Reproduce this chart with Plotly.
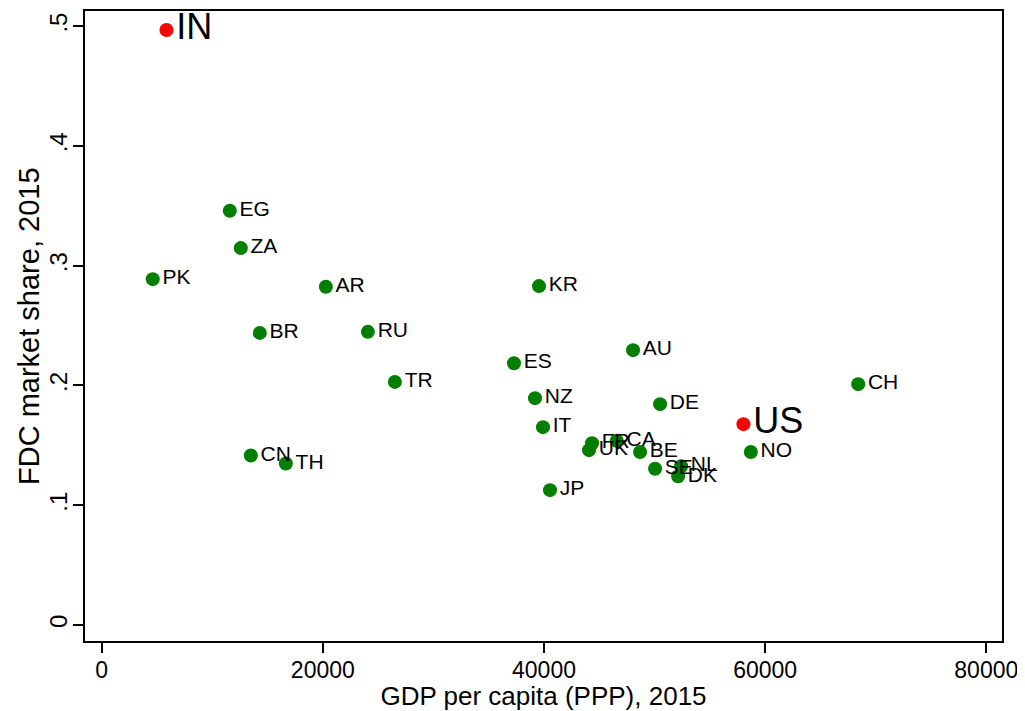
import plotly.graph_objects as go

# Data
countries = ["EG", "ZA", "PK", "AR", "BR", "RU", "TR", "CN", "TH", "KR", "ES", "NZ",
             "IT", "JP", "AU", "DE", "CH", "NO", "UK", "FR", "CA", "BE", "SE", "NL", "DK"]
gdp_pc = [11584, 12579, 4615, 20271, 14299, 24072, 26516, 13484, 16652, 39548, 37285, 39186,
          39910, 40543, 48054, 50498, 68416, 58706, 44072, 44344, 46579, 48688, 50045, 52398, 52127]
fdc_share = [0.3459, 0.3147, 0.2888, 0.2824, 0.2439, 0.2448, 0.2030, 0.1415, 0.1348, 0.2830, 0.2186, 0.1894,
             0.1652, 0.1126, 0.2295, 0.1844, 0.2011, 0.1445, 0.1460, 0.1518, 0.1539, 0.1445, 0.1305, 0.1326, 0.1242]

hl_countries = ["IN", "US"]
hl_gdp_pc = [5855, 58036]
hl_fdc_share = [0.4968, 0.1677]

x_ticks = [0, 20000, 40000, 60000, 80000]
y_ticks = [0, 0.1, 0.2, 0.3, 0.4, 0.5]
y_tick_labels = ["0", ".1", ".2", ".3", ".4", ".5"]

FONT = "Liberation Sans, Arial, Helvetica, sans-serif"

fig = go.Figure()
fig.add_trace(go.Scatter(
    x=gdp_pc, y=fdc_share, text=countries, mode="markers+text",
    textposition="middle right",
    marker=dict(color="#007f00", size=14),
    textfont=dict(family=FONT, size=21, color="black"),
    showlegend=False, cliponaxis=False,
))
fig.add_trace(go.Scatter(
    x=hl_gdp_pc, y=hl_fdc_share, text=hl_countries, mode="markers+text",
    textposition="middle right",
    marker=dict(color="#ff0000", size=14),
    textfont=dict(family=FONT, size=36, color="black"),
    showlegend=False, cliponaxis=False,
))

# page body has an 8px margin, so the figure is sized/offset accordingly
fig.update_layout(
    width=1017, height=703,
    margin=dict(l=77, r=23, t=3, b=70, autoexpand=False),
    paper_bgcolor="white", plot_bgcolor="white",
    font=dict(family=FONT, color="black"),
    xaxis=dict(
        range=[-1511, 81421], tickvals=x_ticks, ticktext=[str(v) for v in x_ticks],
        showgrid=False, zeroline=False, automargin=False,
        showline=True, linecolor="black", linewidth=2, mirror=True,
        ticks="outside", ticklen=10, tickwidth=1.5, tickcolor="black",
        ticklabelstandoff=-3,
        tickfont=dict(size=23, family=FONT),
        title=dict(text="GDP per capita (PPP), 2015", font=dict(size=26, family=FONT), standoff=6),
    ),
    yaxis=dict(
        range=[-0.01337, 0.5127], tickvals=y_ticks, ticktext=y_tick_labels,
        showgrid=False, zeroline=False, automargin=False,
        showline=True, linecolor="black", linewidth=2, mirror=True,
        ticks="outside", ticklen=10, tickwidth=1.5, tickcolor="black",
        tickangle=-90, ticklabelstandoff=-4,
        tickfont=dict(size=24, family=FONT),
    ),
    annotations=[dict(
        text="FDC market share, 2015", textangle=-90,
        xref="paper", yref="paper", x=-56 / 917, y=0.5,
        xanchor="center", yanchor="middle", showarrow=False,
        font=dict(size=29, family=FONT, color="black"),
    )],
)

fig.write_html("out.html")
